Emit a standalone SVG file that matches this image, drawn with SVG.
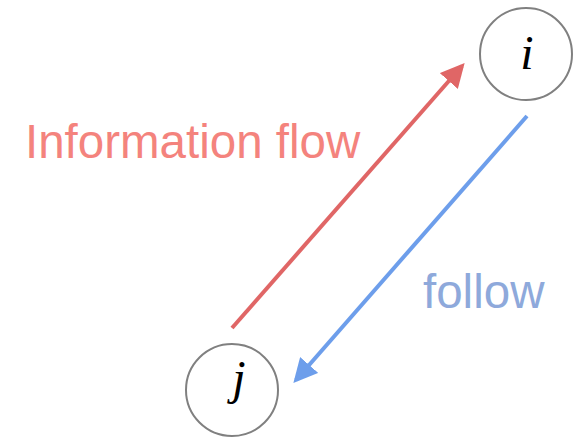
<svg xmlns="http://www.w3.org/2000/svg" width="587" height="437" viewBox="0 0 587 437">
<style>
.node{fill:#fff;stroke:#808080;stroke-width:2}
.var{font-family:"Liberation Serif",serif;font-style:italic;font-size:48px;fill:#000;text-anchor:middle}
.lbl{font-family:"Liberation Sans",Arial,sans-serif;font-size:47.5px}
</style>
<defs>
<marker id="ahR" markerWidth="6" markerHeight="6" refX="5" refY="3" orient="auto" markerUnits="strokeWidth"><path d="M0,0 L6,3 L0,6 z" fill="#E06666"/></marker>
<marker id="ahB" markerWidth="6" markerHeight="6" refX="5" refY="3" orient="auto" markerUnits="strokeWidth"><path d="M0,0 L6,3 L0,6 z" fill="#6D9EEB"/></marker>
</defs>
<g id="connectors">
<line x1="232" y1="328" x2="462" y2="66" stroke="#E06666" stroke-width="4" marker-end="url(#ahR)"/>
<line x1="527" y1="116" x2="296" y2="380" stroke="#6D9EEB" stroke-width="4" marker-end="url(#ahB)"/>
</g>
<g id="node-i">
<circle class="node" cx="526" cy="54" r="46"/>
<text class="var" x="527" y="69">i</text>
</g>
<g id="node-j">
<circle class="node" cx="232" cy="390" r="46"/>
<text class="var" x="239" y="394">j</text>
</g>
<text class="lbl" x="25" y="158" fill="#F4837D">Information flow</text>
<text class="lbl" x="423" y="308" fill="#8EA9DB">follow</text>
</svg>
